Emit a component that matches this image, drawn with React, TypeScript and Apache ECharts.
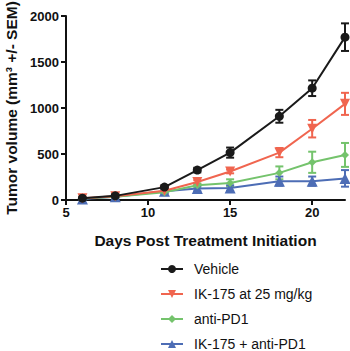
import React, { useEffect, useRef } from "react";
import * as echarts from "echarts";

const days = [6, 8, 11, 13, 15, 18, 20, 22];
const seriesNames = ["Vehicle", "IK-175 at 25 mg/kg", "anti-PD1", "IK-175 + anti-PD1"];
const vehicle = [20, 45, 140, 325, 515, 910, 1215, 1770];
const vehicleErr = [10, 15, 20, 25, 55, 70, 85, 150];
const ik175 = [20, 40, 100, 195, 310, 515, 775, 1045];
const ik175Err = [10, 12, 15, 20, 20, 50, 95, 120];
const antiPD1 = [15, 35, 85, 160, 185, 295, 410, 490];
const antiPD1Err = [8, 10, 15, 20, 40, 70, 115, 130];
const combo = [10, 35, 95, 125, 130, 205, 205, 235];
const comboErr = [8, 10, 20, 30, 30, 50, 50, 90];
const colors = ["#1a1a1a", "#f0654f", "#74c36c", "#4d6db5"];
const symbols = ["circle", "triangle", "diamond", "triangle"];
const symbolRot = [0, 180, 0, 0];
const symbolSizes = [9, 10, 8, 11];

export default function App() {
  const ref = useRef<HTMLDivElement>(null);
  useEffect(() => {
    const chart = echarts.init(ref.current!, undefined, { renderer: "svg" });
    const values = [vehicle, ik175, antiPD1, combo];
    const errs = [vehicleErr, ik175Err, antiPD1Err, comboErr];
    const font = "'Liberation Sans', Arial, sans-serif";
    const lineSeries: any[] = [];
    const errSeries: any[] = [];
    values.forEach((vals, i) => {
      errSeries.push({
        type: "custom",
        name: seriesNames[i] + " err",
        data: days.map((d, k) => [d, vals[k] - errs[i][k], vals[k] + errs[i][k]]),
        encode: { x: 0, y: [1, 2] },
        z: 1,
        renderItem: (params: any, api: any) => {
          const x = api.value(0);
          const lo = api.coord([x, api.value(1)]);
          const hi = api.coord([x, api.value(2)]);
          const hw = 4;
          const style = { stroke: colors[i], lineWidth: 2 };
          return {
            type: "group",
            children: [
              { type: "line", shape: { x1: lo[0], y1: lo[1], x2: hi[0], y2: hi[1] }, style },
              { type: "line", shape: { x1: lo[0] - hw, y1: lo[1], x2: lo[0] + hw, y2: lo[1] }, style },
              { type: "line", shape: { x1: hi[0] - hw, y1: hi[1], x2: hi[0] + hw, y2: hi[1] }, style },
            ],
          };
        },
      });
    });
    values.forEach((vals, i) => {
      lineSeries.push({
        type: "line",
        name: seriesNames[i],
        data: days.map((d, k) => [d, vals[k]]),
        symbol: symbols[i],
        symbolRotate: symbolRot[i],
        symbolSize: symbolSizes[i],
        showAllSymbol: true,
        z: 3 + (3 - i),
        lineStyle: { color: colors[i], width: 2 },
        itemStyle: { color: colors[i], borderWidth: 0 },
      });
    });
    chart.setOption({
      animation: false,
      grid: { left: 66, right: 5, top: 16, bottom: 151, containLabel: false, outerBoundsMode: "none" },
      legend: {
        orient: "vertical",
        left: 160,
        top: 262,
        padding: 0,
        itemWidth: 22,
        itemHeight: 10,
        itemGap: 11,
        data: seriesNames,
        textStyle: { fontFamily: font, fontSize: 14, color: "#111", padding: [0, 0, 0, 6] },
      },
      xAxis: {
        type: "value",
        min: 5,
        max: 22,
        interval: 5,
        name: "Days Post Treatment Initiation",
        nameLocation: "middle",
        nameGap: 32,
        nameTextStyle: { fontFamily: font, fontSize: 15.5, fontWeight: "bold", color: "#111" },
        axisLine: { lineStyle: { color: "#111", width: 2 } },
        axisTick: { show: true, length: 5, lineStyle: { color: "#111", width: 2 } },
        axisLabel: {
          showMaxLabel: false,
          fontFamily: font,
          fontSize: 13,
          fontWeight: "bold",
          color: "#111",
          margin: 6,
        },
        splitLine: { show: false },
      },
      yAxis: {
        type: "value",
        min: 0,
        max: 2000,
        interval: 500,
        name: "Tumor volume (mm\u00b3 +/- SEM)",
        nameLocation: "middle",
        nameGap: 42,
        nameTextStyle: { fontFamily: font, fontSize: 15.5, fontWeight: "bold", color: "#111" },
        axisLine: { show: true, lineStyle: { color: "#111", width: 2 } },
        axisTick: { show: true, length: 5, lineStyle: { color: "#111", width: 2 } },
        axisLabel: {
          fontFamily: font,
          fontSize: 13,
          fontWeight: "bold",
          color: "#111",
          margin: 7,
          formatter: (v: number) => String(v),
        },
        splitLine: { show: false },
      },
      series: [...errSeries, ...lineSeries],
    });
    return () => chart.dispose();
  }, []);
  return <div ref={ref} style={{ width: 350, height: 351, position: "absolute", left: 0, top: 0 }} />;
}
